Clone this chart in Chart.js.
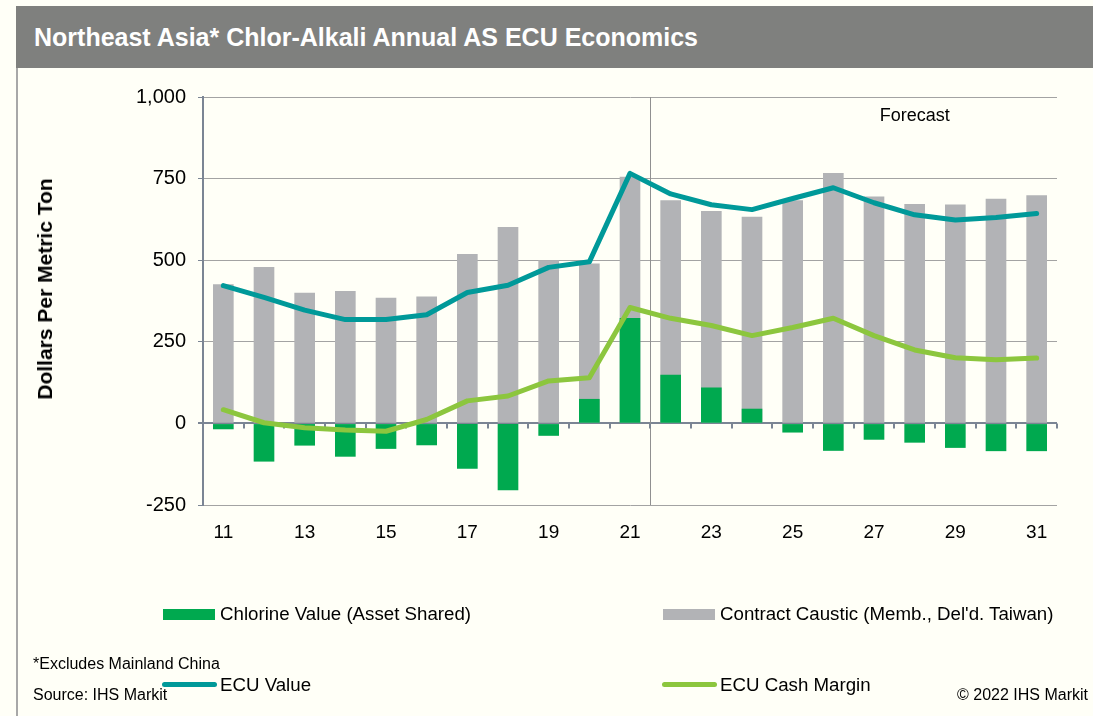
<!DOCTYPE html>
<html>
<head>
<meta charset="utf-8">
<script src="https://cdn.jsdelivr.net/npm/chart.js@4/dist/chart.umd.min.js"></script>
<style>
  html, body { margin:0; padding:0; background:#fffff7; }
  body { width:1093px; height:716px; position:relative; overflow:hidden; font-family:"Liberation Sans", Arial, sans-serif; }
  #titlebar { position:absolute; left:16px; top:6px; width:1077px; height:62px; background:#7f807e; }
  #titlebar span { position:absolute; left:18px; top:17px; color:#fff; font-weight:bold; font-size:25px; line-height:28px; white-space:nowrap; }
  #leftline { position:absolute; left:16px; top:68px; width:2px; height:648px; background:#a8a8a8; }
  #cv { position:absolute; left:0; top:0; }
  #ytitle { position:absolute; left:45px; top:289px; transform:translate(-50%,-50%) rotate(-90deg); font-weight:bold; font-size:21px; white-space:nowrap; color:#000; }
  .lg { position:absolute; font-size:18.7px; line-height:22px; white-space:nowrap; color:#000; }
  .sw { position:absolute; }
  .fn { position:absolute; font-size:16px; line-height:18px; white-space:nowrap; color:#000; }
</style>
</head>
<body>
<div id="titlebar"><span>Northeast Asia* Chlor-Alkali Annual AS ECU Economics</span></div>
<div id="leftline"></div>
<canvas id="cv" width="1093" height="716"></canvas>
<div id="ytitle">Dollars Per Metric Ton</div>

<div class="sw" style="left:163px;top:609px;width:52px;height:11px;background:#00a94f"></div>
<div class="lg" style="left:220px;top:603px">Chlorine Value (Asset Shared)</div>
<div class="sw" style="left:663px;top:609px;width:52px;height:11px;background:#b2b3b6"></div>
<div class="lg" style="left:720px;top:603px">Contract Caustic (Memb., Del'd. Taiwan)</div>

<div class="sw" style="left:162px;top:682px;width:55px;height:5px;border-radius:3px;background:#009999"></div>
<div class="lg" style="left:220px;top:674px">ECU Value</div>
<div class="sw" style="left:662px;top:682px;width:55px;height:5px;border-radius:3px;background:#8cc63e"></div>
<div class="lg" style="left:720px;top:674px">ECU Cash Margin</div>

<div class="fn" style="left:33px;top:655px">*Excludes Mainland China</div>
<div class="fn" style="left:33px;top:686px">Source: IHS Markit</div>
<div class="fn" style="right:5px;top:686px">© 2022 IHS Markit</div>

<script>
// ---- data ----
const years = ['11','12','13','14','15','16','17','18','19','20','21','22','23','24','25','26','27','28','29','30','31'];
const contractCaustic = [425,478,399,405,384,388,518,601,499,489,755,683,650,632,683,766,694,671,670,687,698];
const chlorineValue   = [-17,-116,-67,-101,-77,-66,-138,-204,-37,74,322,148,109,44,-27,-83,-49,-58,-74,-84,-84];
const ecuValue        = [422,386,347,318,318,333,401,423,478,495,766,703,670,655,689,722,676,639,623,631,643];
const ecuCashMargin   = [42,2,-13,-20,-24,12,69,84,130,140,355,322,300,269,294,322,269,225,201,195,200];
const yTicks = [-250, 0, 250, 500, 750, 1000];
const forecastStartIndex = 11; // first forecast category ('22')
const forecastLabel = 'Forecast';

const AXIS = '#7b8594';
const GRID = '#a3a3a3';
const FONT = '"Liberation Sans", Arial, sans-serif';

const overlayPlugin = {
  id: 'overlay',
  beforeDatasetsDraw(chart) {
    const {ctx, chartArea, scales:{x, y}} = chart;
    const half = (x.getPixelForValue(1) - x.getPixelForValue(0)) / 2;
    const fx = Math.round(x.getPixelForValue(forecastStartIndex) - half) + 0.5;
    ctx.save();
    ctx.strokeStyle = '#909090';
    ctx.lineWidth = 1;
    ctx.beginPath();
    ctx.moveTo(fx, chartArea.top);
    ctx.lineTo(fx, chartArea.bottom);
    ctx.stroke();
    const y0 = y.getPixelForValue(0);
    ctx.strokeStyle = AXIS;
    ctx.lineWidth = 2;
    for (let i = 0; i <= years.length; i++) {
      const tx = Math.round(x.getPixelForValue(0) - half + i * 2 * half);
      ctx.beginPath();
      ctx.moveTo(tx, y0);
      ctx.lineTo(tx, y0 + 5);
      ctx.stroke();
    }
    ctx.restore();
  },
  afterDatasetsDraw(chart) {
    const {ctx, scales:{x, y}} = chart;
    ctx.save();
    ctx.fillStyle = '#000';
    ctx.font = '18px ' + FONT;
    ctx.textAlign = 'center';
    ctx.textBaseline = 'middle';
    ctx.fillText(forecastLabel, x.getPixelForValue(17), y.getPixelForValue(943));
    ctx.restore();
  }
};

new Chart(document.getElementById('cv'), {
  data: {
    labels: years,
    datasets: [
      { type:'line', label:'ECU Value', data: ecuValue, borderColor:'#009999', borderWidth:5,
        pointRadius:0, tension:0, borderCapStyle:'round', borderJoinStyle:'round', order:0 },
      { type:'line', label:'ECU Cash Margin', data: ecuCashMargin, borderColor:'#8cc63e', borderWidth:5,
        pointRadius:0, tension:0, borderCapStyle:'round', borderJoinStyle:'round', order:0 },
      { type:'bar', label:'Chlorine Value (Asset Shared)', data: chlorineValue, backgroundColor:'#00a94f',
        barThickness:20, grouped:false, order:1 },
      { type:'bar', label:"Contract Caustic (Memb., Del'd. Taiwan)", data: contractCaustic, backgroundColor:'#b2b3b6',
        barThickness:20, grouped:false, order:2 }
    ]
  },
  options: {
    responsive:false,
    animation:false,
    devicePixelRatio:1,
    layout: { padding: { top:97, left:0, right:36, bottom:171 } },
    plugins: { legend:{display:false}, tooltip:{enabled:false}, title:{display:false} },
    scales: {
      x: {
        type:'category',
        grid:{ display:false, drawTicks:false },
        border:{ display:false },
        ticks:{ autoSkip:false, maxRotation:0, padding:16, color:'#000', font:{family:FONT, size:19},
                callback:(v, i) => (i % 2 === 0 ? years[i] : '') },
        afterFit:(s) => { s.height = 40; }
      },
      y: {
        min:-250, max:1000,
        afterBuildTicks:(s) => { s.ticks = yTicks.map(v => ({value:v})); },
        grid:{ color:(c) => (c.tick && c.tick.value === 0 ? AXIS : GRID),
               lineWidth:(c) => (c.tick && c.tick.value === 0 ? 2 : 1),
               tickColor:AXIS, tickLength:5 },
        border:{ display:true, color:AXIS, width:2 },
        ticks:{ padding:12, color:'#000', font:{family:FONT, size:20},
                callback:(v) => Number(v).toLocaleString('en-US') },
        afterFit:(s) => { s.width = 203; }
      }
    }
  },
  plugins:[overlayPlugin]
});
</script>
</body>
</html>
